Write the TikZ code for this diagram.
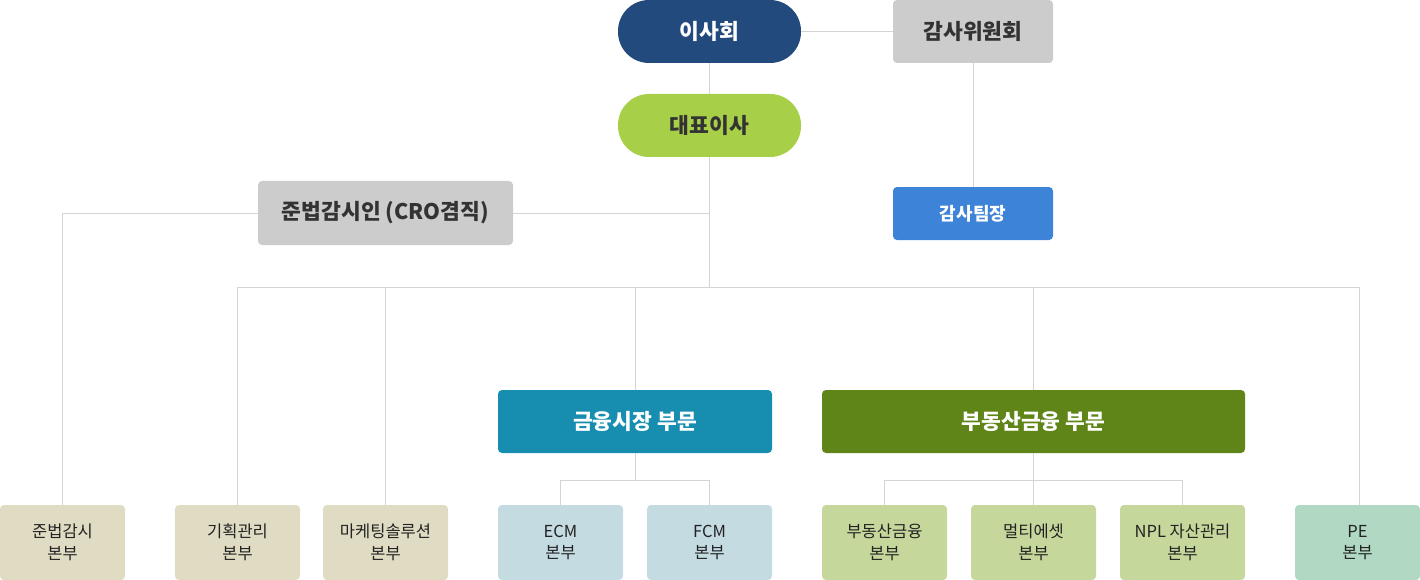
\documentclass[tikz,border=0pt]{standalone}
\usepackage{fontspec}
\setmainfont{Noto Sans CJK KR}
\begin{document}
\begin{tikzpicture}[x=1pt,y=-1pt,
  line/.style={draw=lineg,line width=1pt},
  pill/.style={rounded corners=31pt,inner sep=0pt},
  bx/.style={rounded corners=4pt,inner sep=0pt},
  toplbl/.style={font=\fontsize{21.5}{24}\selectfont\bfseries},
  botlbl/.style={font=\fontsize{16.5}{21.5}\selectfont,text=txt,align=center}]
\definecolor{lineg}{HTML}{D4D4D4}
\definecolor{navy}{HTML}{234A7C}
\definecolor{lime}{HTML}{A8CF48}
\definecolor{grayb}{HTML}{CCCCCC}
\definecolor{blueb}{HTML}{3D84D8}
\definecolor{teal}{HTML}{178EB0}
\definecolor{olive}{HTML}{5F8418}
\definecolor{beige}{HTML}{E0DCC4}
\definecolor{lblue}{HTML}{C4DBE2}
\definecolor{lgreen}{HTML}{C6D79C}
\definecolor{mint}{HTML}{B1D8C3}
\definecolor{txt}{HTML}{222222}
\definecolor{dtxt}{HTML}{333333}
\useasboundingbox (0,0) rectangle (1420,580);
% top nodes
\node[pill,fill=navy,minimum width=183pt,minimum height=63pt,toplbl,text=white] (board) at (709.5,31.5) {이사회};
\node[pill,fill=lime,minimum width=183pt,minimum height=63pt,toplbl,text=dtxt] (ceo) at (709.5,125.5) {대표이사};
\node[bx,fill=grayb,minimum width=160pt,minimum height=63pt,toplbl,text=dtxt] (audit) at (973,31.5) {감사위원회};
\node[bx,fill=blueb,minimum width=160pt,minimum height=53pt,font=\fontsize{18}{20}\selectfont\bfseries,text=white] (auditlead) at (973,213.5) {감사팀장};
\node[bx,fill=grayb,minimum width=255pt,minimum height=64pt,toplbl,text=dtxt] (cro) at (385.5,213) {준법감시인 (CRO겸직)};
\node[bx,fill=teal,minimum width=274pt,minimum height=63pt,toplbl,text=white] (fin) at (635,421.5) {금융시장 부문};
\node[bx,fill=olive,minimum width=423pt,minimum height=63pt,toplbl,text=white] (re) at (1033.5,421.5) {부동산금융 부문};
% bottom nodes
\tikzset{leaf/.style={bx,minimum width=125pt,minimum height=75pt,botlbl}}
\node[leaf,fill=beige] (b1) at (62.5,542.5) {준법감시\\본부};
\node[leaf,fill=beige] (b2) at (237.5,542.5) {기획관리\\본부};
\node[leaf,fill=beige] (b3) at (385.5,542.5) {마케팅솔루션\\본부};
\node[leaf,fill=lblue] (b4) at (560.5,542.5) {ECM\\본부};
\node[leaf,fill=lblue] (b5) at (709.5,542.5) {FCM\\본부};
\node[leaf,fill=lgreen] (b6) at (884.5,542.5) {부동산금융\\본부};
\node[leaf,fill=lgreen] (b7) at (1033.5,542.5) {멀티에셋\\본부};
\node[leaf,fill=lgreen] (b8) at (1182.5,542.5) {NPL 자산관리\\본부};
\node[leaf,fill=mint] (b9) at (1357.5,542.5) {PE\\본부};
% coordinates
\coordinate (hub) at (709.5,287);
\coordinate (crojoin) at (709.5,213);
\coordinate (fj) at (635,480);
\coordinate (rj) at (1033.5,480);
\coordinate (pe) at (1359,505);
% connectors
\draw[line] (board.east) -- (audit.west);
\draw[line] (board.south) -- (ceo.north);
\draw[line] (audit.south) -- (auditlead.north);
\draw[line] (ceo.south) -- (hub);
\draw[line] (cro.east) -- (crojoin);
\draw[line] (cro.west) -| (b1.north);
\draw[line] (hub) -| (b2.north);
\draw[line] (hub) -| (b3.north);
\draw[line] (hub) -| (fin.north);
\draw[line] (hub) -| (re.north);
\draw[line] (hub) -| (pe);
\draw[line] (fin.south) -- (fj);
\draw[line] (fj) -| (b4.north);
\draw[line] (fj) -| (b5.north);
\draw[line] (re.south) -- (b7.north);
\draw[line] (rj) -| (b6.north);
\draw[line] (rj) -| (b8.north);
\end{tikzpicture}
\end{document}
